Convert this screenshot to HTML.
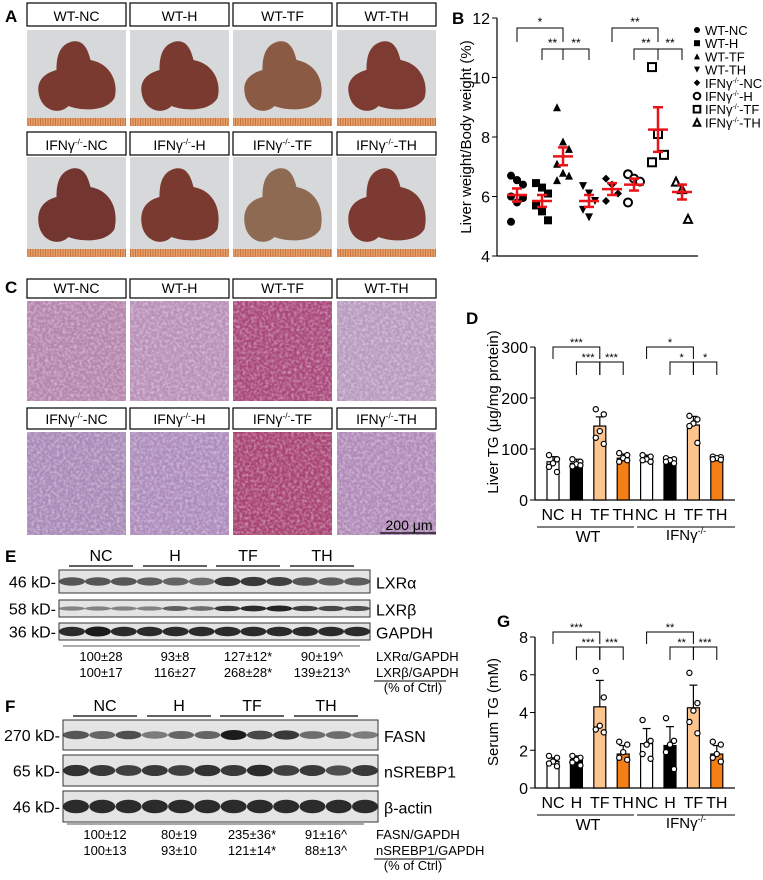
<!DOCTYPE html>
<html><head><meta charset="utf-8">
<style>
html,body{margin:0;padding:0;background:#fff;}
svg{display:block;font-family:"Liberation Sans",Arial,sans-serif;}
</style></head>
<body>
<svg id="fig" width="763" height="880" viewBox="0 0 763 880" xmlns="http://www.w3.org/2000/svg">
<defs>
<filter id="tex" x="0" y="0" width="100%" height="100%">
<feTurbulence type="fractalNoise" baseFrequency="0.35" numOctaves="2" seed="3"/>
<feColorMatrix type="matrix" values="0 0 0 0 1  0 0 0 0 1  0 0 0 0 1  0 0 0 -1.6 1.0"/>
</filter>
<pattern id="ruler" width="2.5" height="10" patternUnits="userSpaceOnUse"><rect width="2.5" height="10" fill="#e8a06a"/><rect width="1" height="10" fill="#c8743e"/></pattern>
</defs>
<g id="root"></g>
</svg>
<script>
// ---------- Panel B data ----------
const bGroups = ["WT-NC","WT-H","WT-TF","WT-TH","IFN-NC","IFN-H","IFN-TF","IFN-TH"];
const bMeans = [6.05,5.85,7.35,5.85,6.25,6.4,8.25,6.15];
const bSem = [0.22,0.2,0.3,0.2,0.2,0.2,0.75,0.25];
const bPoints = [
 [6.7,6.55,6.4,6.0,5.8,5.95,5.15,6.55],
 [6.45,6.3,6.1,5.7,5.5,5.2],
 [9.0,7.85,7.6,7.1,6.8,6.7,6.55],
 [6.35,6.1,5.85,5.55,5.3],
 [6.6,6.4,6.1,5.85],
 [6.75,6.6,6.5,5.8],
 [10.35,8.1,7.4,7.15],
 [6.5,6.25,5.25]
];
const bTicks = [4,6,8,10,12];
// ---------- Panel D data ----------
const cats = ["NC","H","TF","TH","NC","H","TF","TH"];
const dMeans = [75,72,145,82,80,77,147,82];
const dSd = [10,8,18,8,8,6,17,4];
const dPoints = [[88,80,72,65,55],[80,75,70,66,68],[178,168,135,122,110],[92,88,82,75,78],[88,85,80,78,75],[82,80,78,75,72],[165,158,150,145,112],[85,84,82,80,79]];
const dTicks = [0,100,200,300];
// ---------- Panel G data ----------
const gMeans = [1.4,1.5,4.3,1.8,2.35,2.25,4.25,1.8];
const gSd = [0.2,0.2,1.4,0.45,0.8,1.0,1.2,0.45];
const gPoints = [[1.7,1.6,1.4,1.3,1.15],[1.7,1.6,1.5,1.35,1.2],[6.2,4.8,3.3,3.1,2.95],[2.45,2.3,1.9,1.6,1.5],[3.6,2.5,2.3,1.8,1.55],[3.7,2.5,2.3,1.9,1.0],[6.1,4.5,4.1,3.5,2.9],[2.45,2.3,1.8,1.6,1.4]];
const gTicks = [0,2,4,6,8];
const barFills = ["#ffffff","#000000","#fdc48e","#f57f17","#ffffff","#000000","#fdc48e","#f57f17"];

const NS="http://www.w3.org/2000/svg";
const root=document.getElementById('root');
function mk(tag,attrs,parent){const e=document.createElementNS(NS,tag);for(const k in attrs)e.setAttribute(k,attrs[k]);(parent||root).appendChild(e);return e;}
function txt(x,y,s,size,parent,anchor,weight){const t=mk('text',{x:x,y:y,'font-size':size,'text-anchor':anchor||'start','font-weight':weight||'normal',fill:'#000'},parent);t.textContent=s;return t;}
function gamma(parent,x,y,pre,post,size){
  const t=mk('text',{x:x,y:y,'font-size':size,'text-anchor':'middle',fill:'#000'},parent);
  const a=mk('tspan',{},t);a.textContent=pre+'γ';
  const b=mk('tspan',{'font-size':size*0.6,dy:-size*0.4},t);b.textContent='-/-';
  const c=mk('tspan',{dy:size*0.4},t);c.textContent=post;return t;}

const letters=[["A",5,22],["B",452,24],["C",5,293],["D",466,324],["E",5,562],["F",5,712],["G",497,627]];
letters.forEach(l=>{const t=txt(l[1],l[2],l[0],17,root,'start','bold');});

// ---------- Panels A & C ----------
const colX=[27,130,233,337];const colW=99;
const names1=["WT-NC","WT-H","WT-TF","WT-TH"];const names2=["NC","H","TF","TH"];
function labelBox(x,y,h,i,row,panel){
  const g=mk('g',{});
  
  
  mk('rect',{x:x,y:y,width:colW,height:h,fill:'#fff',stroke:'#000','stroke-width':1.2},g);
  if(row===0) txt(x+colW/2,y+h-5,names1[i],14,g,'middle');
  else gamma(g,x+colW/2,y+h-5,'IFN','-'+names2[i],14);
}
const liverCol=["#7a3a30","#7a3a30","#8a5a44","#7d3b32","#733530","#7b3a30","#8f6a52","#7d3a32"];
[0,1].forEach(row=>{
  const ly=row?132:3, py=row?157:30, ph=row?100:96;
  colX.forEach((x,i)=>{
    labelBox(x,ly,23,i,row,'panel-a');
    const g=mk('g',{});
    
    
    mk('rect',{x:x,y:py,width:colW,height:ph,fill:'#d6d8da'},g);
    mk('rect',{x:x,y:py+ph-8,width:colW,height:8,fill:'url(#ruler)'},g);
    const cx=x+colW/2;
    mk('path',{d:`M${cx-6} ${py+12} C${cx+8} ${py+8} ${cx+12} ${py+22} ${cx+14} ${py+30} C${cx+36} ${py+34} ${cx+42} ${py+55} ${cx+38} ${py+ph-28} C${cx+30} ${py+ph-14} ${cx+5} ${py+ph-15} ${cx-8} ${py+ph-20} C${cx-18} ${py+ph-10} ${cx-36} ${py+ph-16} ${cx-38} ${py+ph-34} C${cx-40} ${py+48} ${cx-28} ${py+42} ${cx-20} ${py+40} C${cx-20} ${py+28} ${cx-18} ${py+16} ${cx-6} ${py+12}Z`,fill:liverCol[row*4+i]},g);
  });
});
const histCol=["#b585ae","#b890b8","#a9487a","#b89ac0","#a98ab8","#ad8cbc","#a84372","#b08ab8"];
[0,1].forEach(row=>{
  const ly=row?408:279, py=row?432:301, ph=row?103:100;
  colX.forEach((x,i)=>{
    labelBox(x,ly,row?21:19,i,row,'panel-c');
    const g=mk('g',{});
    
    
    mk('rect',{x:x,y:py,width:colW,height:ph,fill:histCol[row*4+i]},g);
    mk('rect',{x:x,y:py,width:colW,height:ph,filter:'url(#tex)',opacity:0.55},g);
  });
});
const sb=mk('g',{});
txt(409,530,'200 μm',14,sb,'middle');mk('line',{x1:380,x2:436,y1:533,y2:533,stroke:'#000','stroke-width':1.3},sb);

// ---------- Panel B ----------
(function(){
  const g=mk('g',{});
  const x0=497,x1=698,yA=256,yB=18;
  const ys=v=>yA+(v-4)*(yB-yA)/8;
  const xs=i=>[517,542,563,589,612,634,658,682][i];
  mk('line',{x1:x0,x2:x0,y1:yB,y2:yA,stroke:'#000','stroke-width':1.2},g);
  mk('line',{x1:x0,x2:x1,y1:yA,y2:yA,stroke:'#000','stroke-width':1.2},g);
  bTicks.forEach(t=>{mk('line',{x1:x0-5,x2:x0,y1:ys(t),y2:ys(t),stroke:'#000'},g);const l=txt(x0-7,ys(t)+6,String(t),16,g,'end');});
  const yl=txt(0,0,'Liver weight/Body weight (%)',15,g,'middle');yl.setAttribute('transform',`translate(471,${(yA+yB)/2}) rotate(-90)`);
  
  const shapes=['circle','square','tri','tridown','diamond','ocircle','osquare','otri'];
  function marker(sh,x,y,r,par){
    const filled=!sh.startsWith('o');const st={fill:filled?'#000':'#fff',stroke:'#000','stroke-width':filled?0:2};
    if(sh.includes('circle'))return mk('circle',Object.assign({cx:x,cy:y,r:r},st),par);
    if(sh.includes('square'))return mk('rect',Object.assign({x:x-r,y:y-r,width:2*r,height:2*r},st),par);
    if(sh==='tridown')return mk('path',Object.assign({d:`M${x-r} ${y-r}L${x+r} ${y-r}L${x} ${y+r}Z`},st),par);
    if(sh==='diamond')return mk('path',Object.assign({d:`M${x} ${y-r}L${x+r} ${y}L${x} ${y+r}L${x-r} ${y}Z`},st),par);
    return mk('path',Object.assign({d:`M${x} ${y-r}L${x+r} ${y+r}L${x-r} ${y+r}Z`},st),par);
  }
  bPoints.forEach((pts,i)=>{
    pts.forEach((v,j)=>{const m=marker(shapes[i],xs(i)+((j%3)-1)*6,ys(v),4,g);});
    const m=bMeans[i],s=bSem[i],cx=xs(i);
    const e=mk('g',{stroke:'#e8141a','stroke-width':2.5},g);
    mk('line',{x1:cx-10,x2:cx+10,y1:ys(m),y2:ys(m)},e);
    mk('line',{x1:cx,x2:cx,y1:ys(m-s),y2:ys(m+s)},e);
    mk('line',{x1:cx-5,x2:cx+5,y1:ys(m-s),y2:ys(m-s)},e);
    mk('line',{x1:cx-5,x2:cx+5,y1:ys(m+s),y2:ys(m+s)},e);
  });
  function br(a,b,y,lab,h){const q=mk('g',{},g);mk('path',{d:`M${xs(a)} ${y+h}V${y}H${xs(b)}V${y+h}`,fill:'none',stroke:'#000','stroke-width':1},q);txt((xs(a)+xs(b))/2,y-2,lab,12,q,'middle');}
  br(0,2,28,'*',14);br(1,2,49,'**',11);br(2,3,49,'**',11);
  br(4,6,28,'**',14);br(5,6,49,'**',11);br(6,7,49,'**',11);
  const leg=['WT-NC','WT-H','WT-TF','WT-TH','NC','H','TF','TH'];
  leg.forEach((n,i)=>{const q=mk('g',{},g);
    const y=30+i*13.2;marker(shapes[i],697,y,i<4?3:3.3,q);
    if(i<4)txt(705,y+5,n,13,q);else{const t=mk('text',{x:705,y:y+5,'font-size':13},q);const a=mk('tspan',{},t);a.textContent='IFNγ';const b=mk('tspan',{'font-size':7,dy:-5},t);b.textContent='-/-';const c=mk('tspan',{dy:5},t);c.textContent='-'+n;}
  });
})();

// ---------- Bar charts D & G ----------
function barChart(opts){
  const g=mk('g',{});
  const x0=535,x1=735,y0=opts.y0,yT=opts.yT,max=opts.max;
  const ys=v=>y0-v*(y0-yT)/max;
  const xs=i=>553+i*23.4;
  mk('line',{x1:x0,x2:x0,y1:yT,y2:y0,stroke:'#000','stroke-width':1.3},g);
  mk('line',{x1:x0,x2:x1,y1:y0,y2:y0,stroke:'#000','stroke-width':1.3},g);
  opts.ticks.forEach(t=>{mk('line',{x1:x0-5,x2:x0,y1:ys(t),y2:ys(t),stroke:'#000'},g);const l=txt(x0-7,ys(t)+6,String(t),16,g,'end');});
  const yl=txt(0,0,opts.title,15,g,'middle');yl.setAttribute('transform',`translate(498,${opts.titleY}) rotate(-90)`);
  
  opts.means.forEach((m,i)=>{
    const cx=xs(i);
    mk('line',{x1:cx,x2:cx,y1:ys(m),y2:ys(m+opts.sd[i]),stroke:'#000','stroke-width':1.2},g);
    mk('line',{x1:cx-4,x2:cx+4,y1:ys(m+opts.sd[i]),y2:ys(m+opts.sd[i]),stroke:'#000','stroke-width':1.2},g);
    const b=mk('rect',{x:cx-6,y:ys(m),width:12,height:y0-ys(m),fill:barFills[i],stroke:'#000','stroke-width':1.2},g);
    
    
    opts.pts[i].forEach((v,j)=>{const p=mk('circle',{cx:cx+[-4,4,0,-4,4][j],cy:ys(v),r:2.6,fill:'#fff',stroke:'#000','stroke-width':1.2},g);
      });
    const l=txt(cx,y0+20,cats[i],16,g,'middle');
  });
  mk('line',{x1:537,x2:634,y1:y0+27,y2:y0+27,stroke:'#000'},g);
  mk('line',{x1:637,x2:735,y1:y0+27,y2:y0+27,stroke:'#000'},g);
  const w=txt(588,y0+42,'WT',16,g,'middle');
  const f=gamma(g,686,y0+40,'IFN','',15);
  function br(a,b,y,lab,h){const q=mk('g',{},g);mk('path',{d:`M${xs(a)} ${y+h}V${y}H${xs(b)}V${y+h}`,fill:'none',stroke:'#000','stroke-width':1},q);txt((xs(a)+xs(b))/2,y-1,lab,11,q,'middle');}
  const s=opts.sig,yb=opts.brY;
  br(0,2,yb,s[0],12);br(1,2,yb+15,s[1],13);br(2,3,yb+15,s[2],13);
  br(4,6,yb,s[3],12);br(5,6,yb+15,s[4],13);br(6,7,yb+15,s[5],13);
}
barChart({name:'panel-d',y0:500,yT:347,max:300,ticks:dTicks,means:dMeans,sd:dSd,pts:dPoints,title:'Liver TG (μg/mg protein)',titleY:412,brY:347,sig:['***','***','***','*','*','*']});
barChart({name:'panel-g',y0:788,yT:637,max:8,ticks:gTicks,means:gMeans,sd:gSd,pts:gPoints,title:'Serum TG (mM)',titleY:712,brY:632,sig:['***','***','***','**','**','***']});

// ---------- Western blots ----------
const groupNames=["NC","H","TF","TH"];
function blot(opts){
  const g=mk('g',{});
  opts.groupX.forEach((gx,i)=>{txt(gx+32,opts.gy-5,groupNames[i],16,g,'middle');mk('line',{x1:gx,x2:gx+64,y1:opts.gy,y2:opts.gy,stroke:'#000','stroke-width':1.3},g);});
  opts.rows.forEach(r=>{
    const rg=mk('g',{},g);
    mk('rect',{x:opts.x,y:r.y,width:opts.w,height:r.h,fill:'#e4e4e4',stroke:'#333','stroke-width':1},rg);
    r.int.forEach((v,k)=>{const cx=opts.x+13+k*(opts.w-26)/11;mk('ellipse',{cx:cx,cy:r.y+r.h/2,rx:13,ry:r.bh*(0.6+0.4*v),fill:'#111','fill-opacity':0.25+0.7*v},rg);});
    txt(opts.x-3,r.y+r.h/2+6,r.kd,16,rg,'end');
    txt(opts.x+opts.w+6,r.y+r.h/2+7,r.label,16,rg);
  });
  opts.groupX.forEach(gx=>mk('line',{x1:gx-6,x2:gx+70,y1:opts.ly,y2:opts.ly,stroke:'#555','stroke-width':1},g));
  opts.nums.forEach((row,ri)=>row.forEach((s,i)=>txt(opts.groupX[i]+32,opts.ly+15+ri*16,s,13,g,'middle')));
  opts.rlabels.forEach((s,ri)=>{txt(opts.rlx,opts.ly+15+ri*16,s,13,g,'start');});
  mk('line',{x1:opts.rlx-2,x2:opts.rlx+70,y1:opts.ly+35,y2:opts.ly+35,stroke:'#000'},g);
}
blot({name:'panel-e-blot',x:59,w:311,gy:566,groupX:[69,143,216,290],
 rows:[{id:'lxra',y:570,h:23,kd:'46 kD-',label:'LXRα',bh:5,int:[.6,.6,.6,.55,.5,.45,.8,.8,.75,.6,.55,.55]},
       {id:'lxrb',y:600,h:17,kd:'58 kD-',label:'LXRβ',bh:3,int:[.3,.3,.3,.3,.55,.45,.8,.9,.95,.75,.7,.65]},
       {id:'gapdh',y:623,h:17,kd:'36 kD-',label:'GAPDH',bh:5,int:[.9,1,.9,.9,.9,.9,.9,.9,.9,.9,.9,.9]}],
 ly:646,nums:[['100±28','93±8','127±12*','90±19^'],['100±17','116±27','268±28*','139±213^']],
 rlx:376,rlabels:['LXRα/GAPDH','LXRβ/GAPDH']});
(function(){const t=txt(413,692,'(% of Ctrl)',13,root,'middle');})();
blot({name:'panel-f-blot',x:63,w:315,gy:716,groupX:[73,147,220,294],
 rows:[{id:'fasn',y:720,h:30,kd:'270 kD-',label:'FASN',bh:5,int:[.6,.5,.65,.35,.5,.5,1,.7,.8,.45,.45,.35]},
       {id:'nsrebp1',y:755,h:31,kd:'65 kD-',label:'nSREBP1',bh:6,int:[.85,.8,.75,.8,.75,.85,.8,.9,.75,.8,.65,.8]},
       {id:'beta-actin',y:791,h:31,kd:'46 kD-',label:'β-actin',bh:7,int:[.9,.9,.9,.9,.9,.9,.9,.9,.9,.9,.9,.9]}],
 ly:824,nums:[['100±12','80±19','235±36*','91±16^'],['100±13','93±10','121±14*','88±13^']],
 rlx:376,rlabels:['FASN/GAPDH','nSREBP1/GAPDH']});
(function(){const t=txt(413,870,'(% of Ctrl)',13,root,'middle');})();
</script>
</body></html>
